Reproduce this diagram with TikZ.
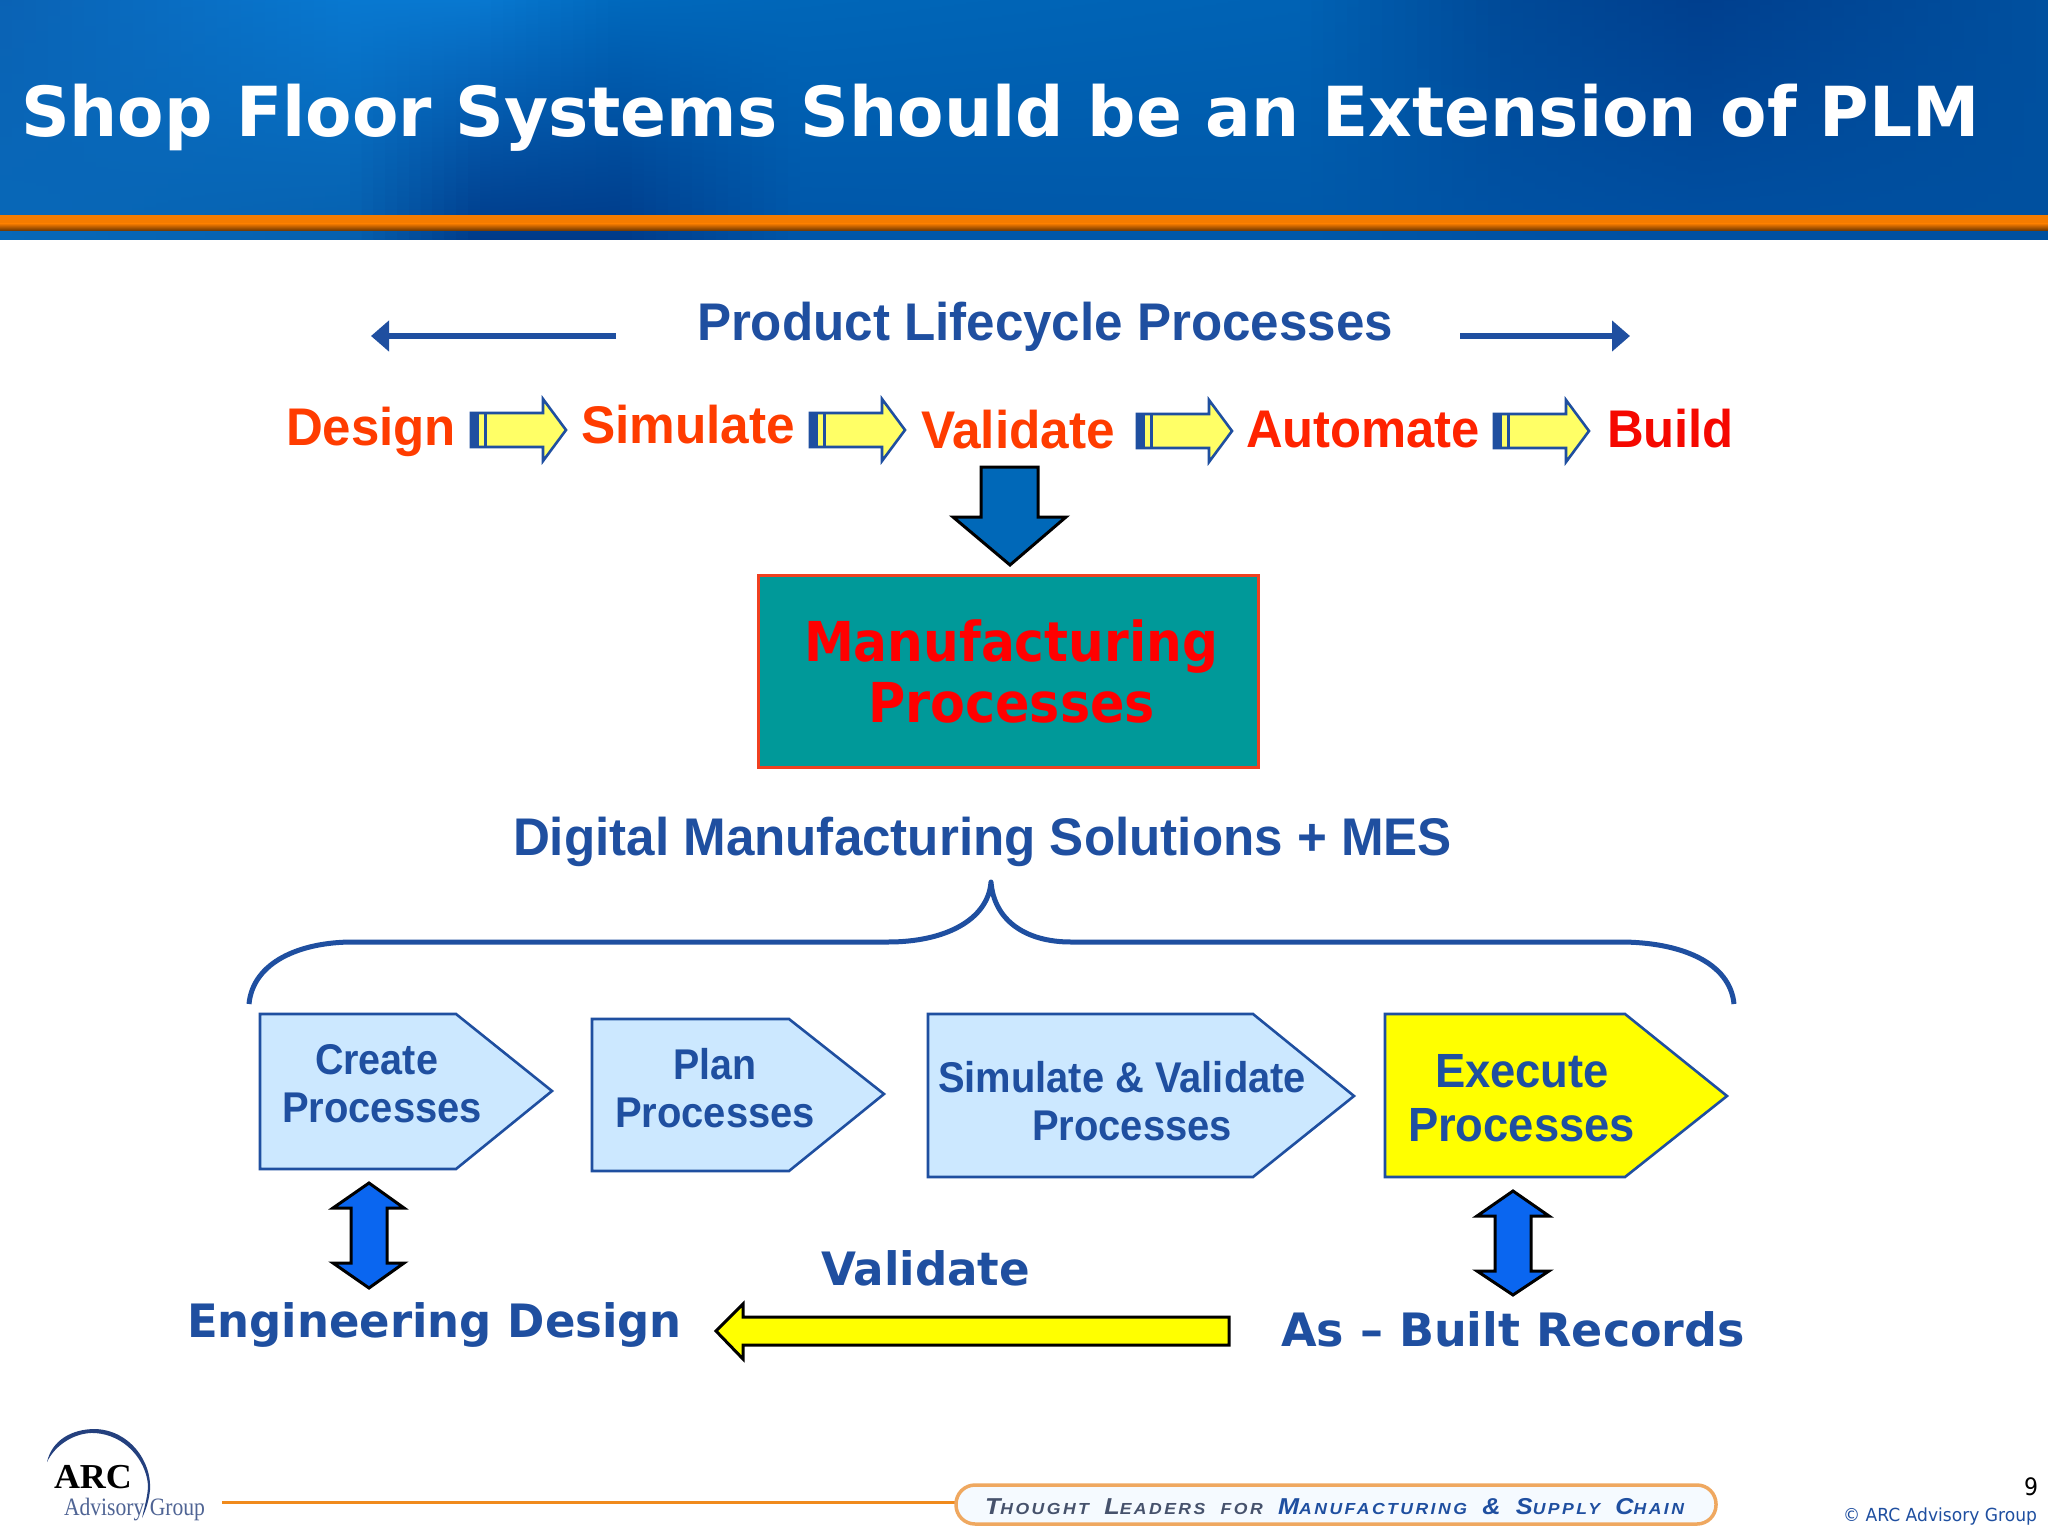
\documentclass[tikz,border=0pt]{standalone}
\usepackage{fontspec}
\usepackage{graphicx}
\setmainfont{Liberation Sans}
\newfontfamily\dvb{DejaVu Sans}[BoldFont={DejaVu Sans Bold}]
\newfontfamily\lib{Liberation Sans}
\newfontfamily\libser{Liberation Serif}
\newfontfamily\tagf{Liberation Sans}[LetterSpace=14]
\usetikzlibrary{arrows.meta}
\definecolor{tA}{HTML}{0A62B4}\definecolor{tB}{HTML}{0878D0}\definecolor{tC}{HTML}{0068BC}
\definecolor{tD}{HTML}{0066B8}\definecolor{tE}{HTML}{0062B4}\definecolor{tF}{HTML}{004A98}
\definecolor{tG}{HTML}{003F8E}\definecolor{tH}{HTML}{00509F}
\definecolor{bA}{HTML}{0868B8}\definecolor{bB}{HTML}{0660AE}\definecolor{bC}{HTML}{003A88}
\definecolor{bD}{HTML}{0056A8}\definecolor{bE}{HTML}{0058A8}\definecolor{bF}{HTML}{0052A4}
\definecolor{bG}{HTML}{0050A2}\definecolor{bH}{HTML}{00509F}
\definecolor{plm}{HTML}{1F4FA0}
\definecolor{orgred}{HTML}{FF3C00}
\definecolor{autored}{HTML}{FF2300}
\definecolor{buildred}{HTML}{F50800}
\definecolor{lightb}{HTML}{CCE8FF}
\definecolor{brightb}{HTML}{0A66F0}
\definecolor{downb}{HTML}{0068B8}
\definecolor{softy}{HTML}{FFFF66}
\definecolor{pureyellow}{HTML}{FFFF00}
\definecolor{teal2}{HTML}{009999}
\definecolor{redline}{HTML}{F04020}
\definecolor{purered}{HTML}{FF0000}
\definecolor{pillorange}{HTML}{EFA860}
\definecolor{pillfill}{HTML}{F5FAFF}
\definecolor{lineorange}{HTML}{F08A1C}
\definecolor{greyblue}{HTML}{46526C}
\definecolor{bandA}{HTML}{F57C00}
\definecolor{bandC}{HTML}{7A3C00}
\definecolor{arcnavy}{HTML}{24407E}
\definecolor{advgrey}{HTML}{4F6494}
\newlength\fitlen
\newcommand\fitw[2]{\settowidth{\fitlen}{#2}\pgfmathsetmacro\fitr{#1/\fitlen}\scalebox{\fitr}[1]{#2}}
\newcommand\hseg[6]{%
  \pgfmathtruncatemacro\nst{max(1,round((#2-#1)/12))}%
  \pgfmathsetmacro\wst{(#2-#1)/\nst}%
  \pgfmathtruncatemacro\nsl{\nst-1}%
  \foreach \i in {0,...,\nsl}{%
    \pgfmathsetmacro\pp{100*(\i+0.5)/\nst}%
    \pgfmathsetmacro\xa{#1+\i*\wst}%
    \pgfmathsetmacro\xb{\xa+\wst+1}%
    \colorlet{ct}{#4!\pp!#3}\colorlet{cb}{#6!\pp!#5}\colorlet{cm}{ct!62!cb}%
    \shade[top color=ct,middle color=cm,bottom color=cb] (\xa,0) rectangle (\xb,239);%
  }%
}
\newcommand\yarrow[2]{%
  \begin{scope}[shift={(#1,#2)}]
    \draw[yarrowbody] (0,-17) -- (72,-17) -- (72,-31) -- (95,0) -- (72,31) -- (72,17) -- (0,17) -- cycle;
    \fill[plm] (0,-17) rectangle (8,17);
    \fill[plm] (13,-17) rectangle (16,17);
    \draw[plm,line width=1] (4,-17) -- (4,17);
  \end{scope}}
\newcommand\bigc[1]{{\fontsize{23}{23}\selectfont #1}}
\newcommand\smlc[1]{{\fontsize{16}{16}\selectfont #1}}
\tikzset{
  x=1pt,y=-1pt,
  txt/.style={anchor=base west,inner sep=0,outer sep=0},
  yarrowbody/.style={draw=plm,line width=2.6,fill=softy,line join=miter},
  pent/.style={draw=plm,line width=2.6,fill=lightb,line join=miter},
  blockk/.style={draw=black,line width=3,line join=miter},
  thinarrow/.style={draw=plm,line width=6.5,-{Triangle[length=18pt,width=30pt]}},
  tplm/.style={txt,text=plm,font=\lib\bfseries\fontsize{53}{53}\selectfont},
  tsmall/.style={txt,text=plm,font=\lib\bfseries\fontsize{43}{43}\selectfont},
  tbig/.style={txt,text=plm,font=\lib\bfseries\fontsize{48}{48}\selectfont},
  tverd/.style={txt,text=plm,font=\dvb\bfseries\fontsize{46}{46}\selectfont},
  tred/.style={txt,font=\lib\bfseries\fontsize{53}{53}\selectfont},
  tmfg/.style={txt,text=purered,font=\dvb\bfseries\fontsize{55}{55}\selectfont},
}
\begin{document}
\begin{tikzpicture}
\useasboundingbox (0,0) rectangle (2048,1536);
\fill[white] (0,0) rectangle (2048,1536);
% header
\hseg{0}{350}{tA}{tB}{bA}{bB}
\hseg{350}{480}{tB}{tB}{bB}{bC}
\hseg{480}{620}{tB}{tC}{bC}{bC}
\hseg{620}{800}{tC}{tD}{bC}{bD}
\hseg{800}{1300}{tD}{tE}{bD}{bE}
\hseg{1300}{1500}{tE}{tF}{bE}{bF}
\hseg{1500}{1700}{tF}{tG}{bF}{bG}
\hseg{1700}{2048}{tG}{tH}{bG}{bH}
\fill[bandA] (0,215) rectangle (2048,224);
\shade[top color=bandA,bottom color=bandC] (0,223.5) rectangle (2048,230);
\node[txt,text=white,font=\dvb\bfseries\fontsize{69}{69}\selectfont] (title) at (21,137) {\fitw{1959}{Shop Floor Systems Should be an Extension of PLM}};
% product lifecycle
\node[tplm] (plp) at (697,340) {\fitw{696}{Product Lifecycle Processes}};
\coordinate (la) at (616,336); \coordinate (lb) at (371,336);
\coordinate (ra) at (1460,336); \coordinate (rb) at (1630,336);
\draw[thinarrow] (la) -- (lb);
\draw[thinarrow] (ra) -- (rb);
% steps
\node[tred,text=orgred] (design) at (286,445) {\fitw{170}{Design}};
\node[tred,text=orgred] (simulate) at (581,443) {\fitw{214}{Simulate}};
\node[tred,text=orgred] (validate) at (921,448) {\fitw{194}{Validate}};
\node[tred,text=autored] (automate) at (1246,447) {\fitw{234}{Automate}};
\node[tred,text=buildred] (build) at (1607,447) {\fitw{127}{Build}};
\yarrow{471}{430}
\yarrow{810}{430}
\yarrow{1137}{431}
\yarrow{1494}{431}
% down arrow
\draw[blockk,fill=downb] (981,467) -- (1038,467) -- (1038,517) -- (1066,517) -- (1010,565) -- (953,517) -- (981,517) -- cycle;
% manufacturing box
\draw[draw=redline,line width=3,fill=teal2] (758,575) rectangle (1258,767);
\node[tmfg] (mfg1) at (804,661) {\fitw{414}{Manufacturing}};
\node[tmfg] (mfg2) at (868,722) {\fitw{287}{Processes}};
% digital
\node[tplm] (dms) at (513,855) {\fitw{939}{Digital Manufacturing Solutions + MES}};
\draw[draw=plm,line width=5,line join=round] (249,1004) .. controls (253,962) and (300,942) .. (353,942) -- (888,942) .. controls (945,942) and (988,920) .. (991,882) .. controls (994,920) and (1025,942) .. (1071,942) -- (1620,942) .. controls (1680,942) and (1730,962) .. (1734,1004);
% pentagons
\draw[pent] (260,1014) -- (456,1014) -- (552,1091) -- (456,1169) -- (260,1169) -- cycle;
\draw[pent] (592,1019) -- (789,1019) -- (884,1094) -- (789,1171) -- (592,1171) -- cycle;
\draw[pent] (928,1014) -- (1253,1014) -- (1354,1096) -- (1253,1177) -- (928,1177) -- cycle;
\draw[pent,fill=pureyellow] (1385,1014) -- (1625,1014) -- (1727,1096) -- (1625,1177) -- (1385,1177) -- cycle;
\node[tsmall] (c1) at (315,1074) {\fitw{123}{Create}};
\node[tsmall] (c2) at (282,1122) {\fitw{200}{Processes}};
\node[tsmall] (p1) at (673,1079) {\fitw{83}{Plan}};
\node[tsmall] (p2) at (615,1127) {\fitw{200}{Processes}};
\node[tsmall] (s1) at (938,1092) {\fitw{368}{Simulate \& Validate}};
\node[tsmall] (s2) at (1032,1140) {\fitw{200}{Processes}};
\node[tbig] (e1) at (1435,1087) {\fitw{174}{Execute}};
\node[tbig] (e2) at (1408,1141) {\fitw{227}{Processes}};
% double arrows
\draw[blockk,fill=brightb] (369,1183) -- (404,1208) -- (387,1208) -- (387,1263) -- (404,1263) -- (369,1288) -- (333,1263) -- (351,1263) -- (351,1208) -- (333,1208) -- cycle;
\draw[blockk,fill=brightb] (1513,1191) -- (1549,1216) -- (1531,1216) -- (1531,1271) -- (1549,1271) -- (1513,1295) -- (1477,1271) -- (1495,1271) -- (1495,1216) -- (1477,1216) -- cycle;
% bottom row
\node[tverd] (ed) at (187,1337) {\fitw{495}{Engineering Design}};
\node[tverd] (vb) at (821,1285) {\fitw{209}{Validate}};
\node[tverd] (ab) at (1281,1346) {\fitw{464}{As – Built Records}};
\draw[blockk,fill=pureyellow] (716,1331) -- (743,1304) -- (743,1317) -- (1229,1317) -- (1229,1345) -- (743,1345) -- (743,1359) -- cycle;
% footer
\coordinate (fl) at (222,1502); \coordinate (fr) at (958,1502);
\draw[lineorange,line width=3] (fl) -- (fr);
\draw[pillorange,line width=3.5,fill=pillfill,rounded corners=19] (956,1485) rectangle (1716,1524);
\node[txt,text=greyblue,font=\tagf\bfseries\itshape] (tag) at (985,1514) {\fitw{699}{\bigc{T}\smlc{HOUGHT}\hspace{14pt}\bigc{L}\smlc{EADERS}\hspace{14pt}\smlc{FOR}\hspace{14pt}{\color{plm}\bigc{M}\smlc{ANUFACTURING}\hspace{14pt}\bigc{\&}\hspace{14pt}\bigc{S}\smlc{UPPLY}\hspace{14pt}\bigc{C}\smlc{HAIN}}}};
\node[txt,text=black,font=\dvb\fontsize{24}{24}\selectfont] (pn) at (2024,1495) {\fitw{14}{9}};
\node[txt,text=plm,font=\dvb\fontsize{18}{18}\selectfont] (copy) at (1843,1521) {\fitw{194}{© ARC Advisory Group}};
% logo
\fill[arcnavy] (47,1462) .. controls (52,1440) and (72,1429) .. (95,1429) .. controls (130,1430) and (152,1462) .. (150,1490) .. controls (149,1500) and (146,1510) .. (142,1518) .. controls (145,1505) and (148,1495) .. (148,1485) .. controls (146,1460) and (125,1435) .. (95,1433) .. controls (75,1432) and (55,1445) .. (47,1462) -- cycle;
\node[txt,text=black,font=\libser\bfseries\fontsize{35}{35}\selectfont] (arc) at (54,1488) {\fitw{78}{ARC}};
\node[txt,text=advgrey,font=\libser\fontsize{25}{25}\selectfont] (adv) at (64,1515) {\fitw{141}{Advisory Group}};
\end{tikzpicture}
\end{document}
